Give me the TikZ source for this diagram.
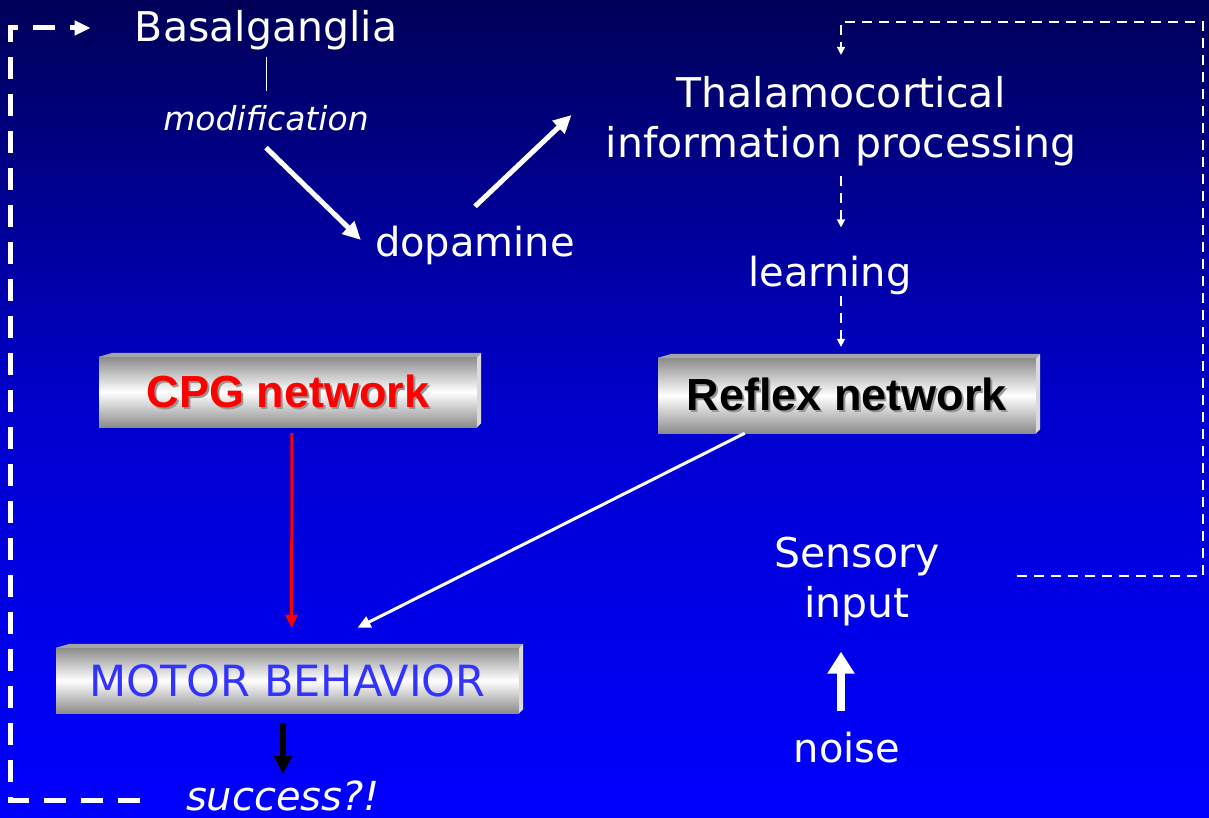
\documentclass[tikz,border=0pt]{standalone}
\usepackage{fontspec}
\setmainfont{DejaVu Sans}
\newfontfamily\arialfont{Liberation Sans}
\usetikzlibrary{arrows.meta,calc,positioning}
\definecolor{bgtop}{RGB}{0,0,88}
\definecolor{bgmid}{RGB}{0,0,205}
\definecolor{bgbot}{RGB}{0,0,255}
\definecolor{boxedge}{RGB}{140,140,140}
\definecolor{bevelside}{RGB}{218,218,218}
\definecolor{beveltop}{RGB}{165,165,165}
\definecolor{motorblue}{RGB}{51,51,255}
\definecolor{txtshadow}{RGB}{150,150,150}
\pgfdeclareverticalshading{bgshade}{100bp}{color(0bp)=(bgbot); color(25bp)=(bgbot); color(50bp)=(bgmid); color(75bp)=(bgtop); color(100bp)=(bgtop)}
\pgfdeclareverticalshading{boxshade}{100bp}{color(0bp)=(boxedge); color(25bp)=(boxedge); color(50bp)=(white); color(75bp)=(boxedge); color(100bp)=(boxedge)}
\newcommand{\shadowed}[1]{\makebox[0pt][l]{\hspace{2pt}\raisebox{-2pt}{\textcolor{txtshadow}{#1}}}#1}
\tikzset{
	lbl/.style={text=white, inner sep=0pt, font=\fontsize{41}{50}\selectfont, align=center},
	netbox/.style={shading=boxshade, inner sep=0pt, minimum width=378pt, minimum height=70pt,
		font=\arialfont\bfseries\fontsize{45}{50}\selectfont},
	fatarrow/.style={white, line width=5pt, -{Triangle[length=18pt,width=17pt]}},
	dasharrow/.style={white, line width=1.5pt, dash pattern=on 10pt off 7pt, -{Triangle[length=8pt,width=8pt]}},
	thinarrow/.style={line width=3pt, -{Triangle[length=13pt,width=12pt]}},
	looparrow/.style={white, line width=5pt, dash pattern=on 22pt off 15pt, -{Triangle[length=16pt,width=14pt]}}
}

\begin{document}
\begin{tikzpicture}[x=1pt,y=-1pt]
		\useasboundingbox (0,0) rectangle (1209,818);
		\shade[shading=bgshade] (0,0) rectangle (1209,818);
		% texts
		\node[lbl, anchor=base] (basal) at (266,42) {Basalganglia};
		\node[lbl, anchor=base, font=\fontsize{33}{40}\selectfont\itshape] (modif) at (266,131) {modification};
		\node[lbl, anchor=base, font=\fontsize{40}{50}\selectfont] (dopa) at (475,256) {dopamine};
		\node[lbl] (thal) at (841,121) {Thalamocortical\\information processing};
		\node[lbl, anchor=base, font=\fontsize{40}{50}\selectfont] (learn) at (830,287) {learning};
		\node[lbl] (sensory) at (857,582) {Sensory\\input};
		\node[lbl, anchor=base, font=\fontsize{40}{50}\selectfont] (noise) at (847,762) {noise};
		\node[lbl, anchor=base, font=\fontsize{40}{50}\selectfont\itshape] (succ) at (283,810) {success?!};
		% boxes
		\node[netbox, text=red] (cpg) at (288,392) {\shadowed{CPG network}};
		\node[netbox, minimum height=75pt] (reflex) at (847,395.5) {\shadowed{Reflex network}};
		\node[netbox, minimum width=463pt, minimum height=65pt, text=motorblue,
			font=\fontsize{43}{50}\selectfont] (motor) at (287.5,680.5) {MOTOR BEHAVIOR};
		\foreach \b in {cpg,reflex,motor}{
			\fill[beveltop] (\b.north west) -- ++(14,-4) -- ([shift={(4,-4)}]\b.north east) -- (\b.north east) -- cycle;
			\fill[bevelside] (\b.north east) -- ++(4,-4) -- ([shift={(4,-4)}]\b.south east) -- (\b.south east) -- cycle;
		}
		% connectors
		\draw[white, line width=1pt, shorten <=6pt, shorten >=15pt] (basal.south) -- (modif.north);
		\draw[fatarrow] ([yshift=-16pt]modif.south) -- ([shift={(-14,-5)}]dopa.west);
		\draw[fatarrow] ([yshift=19pt]dopa.north) -- ([shift={(-34,-6)}]thal.west);
		\draw[dasharrow, shorten <=10pt, shorten >=29pt] (thal.south) -- (thal.south |- learn.north);
		\draw[dasharrow, shorten >=11pt] (thal.south |- learn.south) -- (thal.south |- reflex.north);
		\coordinate (fbstart) at (1017,576);
		\coordinate (fbcorner) at (1203,22);
		\draw[dasharrow, shorten >=21pt] (fbstart) -| (fbcorner) -| (thal.north);
		\draw[white, line width=8pt, -{Triangle[length=22pt,width=26pt]}, shorten <=20pt, shorten >=25pt]
			([xshift=-6pt]noise.north) -- ([xshift=-16pt]sensory.south);
		\draw[thinarrow, red, shorten <=6pt, shorten >=20pt] ([xshift=4pt]cpg.south) -- ([xshift=4pt]motor.north);
		\draw[thinarrow, white] ([xshift=87pt]reflex.south west) -- ([shift={(70,-20)}]motor.north);
		\draw[black, line width=6pt, -{Triangle[length=18pt,width=17pt]}, shorten <=10pt, shorten >=6pt]
			(motor.south -| succ.north) -- (succ.north);
		\coordinate (loopstart) at (140,800);
		\coordinate (loopcorner) at (10,28);
		\draw[looparrow] (loopstart) -| (loopcorner) -- ([xshift=-44pt]loopcorner -| basal.west);
\end{tikzpicture}
\end{document}
